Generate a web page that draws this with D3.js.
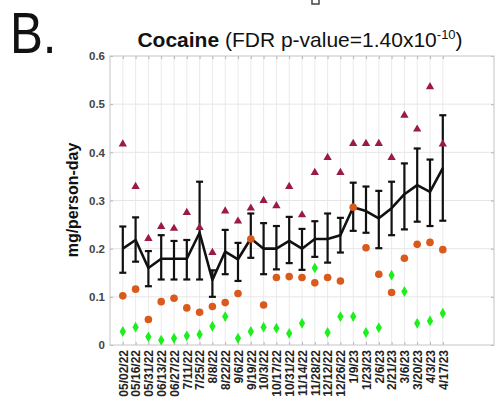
<!DOCTYPE html>
<html>
<head>
<meta charset="utf-8">
<script src="https://cdn.jsdelivr.net/npm/d3@7"></script>
<style>
  html, body { margin: 0; padding: 0; background: #fff; }
  svg { display: block; font-family: "Liberation Sans", Arial, Helvetica, sans-serif; }
</style>
</head>
<body>
<svg id="chart" width="498" height="404"></svg>
<script>
// ---- data ----
const dates = ["05/02/22","05/16/22","05/31/22","06/13/22","06/27/22","7/11/22","7/25/22","8/8/22","8/22/22","9/6/22",
  "9/19/22","10/3/22","10/17/22","10/31/22","11/14/22","11/28/22","12/12/22","12/26/22","1/9/23","1/23/23",
  "2/6/23","2/21/23","3/6/23","3/20/23","4/3/23","4/17/23"];
const meanVals = [0.200,0.218,0.160,0.179,0.179,0.179,0.233,0.135,0.194,0.178,
  0.221,0.200,0.200,0.216,0.200,0.220,0.220,0.228,0.286,0.278,
  0.263,0.284,0.313,0.332,0.318,0.367];
const upperVals = [0.246,0.265,0.195,0.228,0.216,0.218,0.339,0.155,0.239,0.212,
  0.273,0.253,0.247,0.266,0.241,0.257,0.273,0.264,0.337,0.329,
  0.320,0.339,0.377,0.408,0.385,0.477];
const lowerVals = [0.150,0.173,0.122,0.136,0.136,0.136,0.136,0.100,0.147,0.133,
  0.181,0.147,0.157,0.170,0.156,0.183,0.171,0.192,0.237,0.233,
  0.201,0.228,0.240,0.256,0.247,0.258];
const siteA = [0.417,0.329,0.221,0.246,0.242,0.275,0.244,0.192,0.278,0.257,
  0.284,0.300,0.289,0.329,0.270,0.358,0.389,0.358,0.418,0.418,
  0.418,0.389,0.477,0.448,0.536,0.417];
const siteB = [0.102,0.116,0.053,0.090,0.097,0.077,0.068,0.080,0.088,0.107,
  0.220,0.083,0.140,0.142,0.140,0.129,0.140,0.133,0.286,0.202,
  0.147,0.109,0.180,0.209,0.213,0.198];
const siteC = [0.028,0.037,0.017,0.010,0.014,0.019,0.022,0.039,0.059,0.014,
  0.028,0.037,0.035,0.024,0.045,0.160,0.026,0.059,0.059,0.026,
  0.036,0.145,0.111,0.045,0.050,0.066];
const yTicks = [0, 0.1, 0.2, 0.3, 0.4, 0.5, 0.6];

// ---- layout ----
const svg = d3.select("#chart");
const L = 110, R = 494, T = 56, B = 345;
const x = d3.scaleLinear().domain([-1, 29]).range([L, R]);
const y = d3.scaleLinear().domain([0, 0.6]).range([B, T]);
const idx = d3.range(dates.length);

// grid
const g = svg.append("g");
g.selectAll("line.vg").data(idx).join("line")
  .attr("x1", d => x(d)).attr("x2", d => x(d)).attr("y1", T).attr("y2", B)
  .attr("stroke", "#ebebeb").attr("stroke-width", 1);
g.selectAll("line.hg").data(yTicks.slice(1, -1)).join("line")
  .attr("x1", L).attr("x2", R).attr("y1", d => y(d)).attr("y2", d => y(d))
  .attr("stroke", "#e6e6e6").attr("stroke-width", 1);

// axes
const xb = d3.axisBottom(x).tickValues(idx).tickSize(-3).tickFormat(i => dates[i]);
const xt = d3.axisTop(x).tickValues(idx).tickSize(-3).tickFormat("");
const yl = d3.axisLeft(y).tickValues(yTicks).tickSize(-3).tickFormat(d3.format(".1f"))
  .tickPadding(5);
const yr = d3.axisRight(y).tickValues(yTicks).tickSize(-3).tickFormat("");

function styleAxis(sel) {
  sel.select(".domain").remove();
  sel.selectAll(".tick line").attr("stroke", "#b5b5b5");
}
const gxb = svg.append("g").attr("transform", `translate(0,${B})`).call(xb).call(styleAxis);
gxb.selectAll(".tick text")
  .attr("transform", "rotate(-90)")
  .attr("text-anchor", "end")
  .attr("x", -5).attr("y", 0).attr("dy", "0.35em")
  .attr("font-size", 12).attr("font-weight", "bold").attr("fill", "#222")
  .attr("font-family", "Liberation Sans, Arial, sans-serif");
svg.append("g").attr("transform", `translate(0,${T})`).call(xt).call(styleAxis);
const gyl = svg.append("g").attr("transform", `translate(${L},0)`).call(yl).call(styleAxis);
gyl.selectAll(".tick text")
  .attr("font-size", 11.5).attr("font-weight", "bold").attr("fill", "#444")
  .attr("font-family", "Liberation Sans, Arial, sans-serif")
  .text(d => d === 0 ? "0" : d3.format(".1f")(d));
svg.append("g").attr("transform", `translate(${R},0)`).call(yr).call(styleAxis);

// box
svg.append("rect").attr("x", L).attr("y", T).attr("width", R - L).attr("height", B - T)
  .attr("fill", "none").attr("stroke", "#c4c4c4").attr("stroke-width", 1);

// error bars
const eb = svg.append("g").attr("stroke", "#111").attr("stroke-width", 2.2);
eb.selectAll("line.v").data(idx).join("line")
  .attr("x1", d => x(d)).attr("x2", d => x(d))
  .attr("y1", d => y(upperVals[d])).attr("y2", d => y(lowerVals[d]));
eb.selectAll("line.t").data(idx).join("line")
  .attr("x1", d => x(d) - 3.5).attr("x2", d => x(d) + 3.5)
  .attr("y1", d => y(upperVals[d])).attr("y2", d => y(upperVals[d]));
eb.selectAll("line.b").data(idx).join("line")
  .attr("x1", d => x(d) - 3.5).attr("x2", d => x(d) + 3.5)
  .attr("y1", d => y(lowerVals[d])).attr("y2", d => y(lowerVals[d]));

// mean line
svg.append("path").datum(idx)
  .attr("d", d3.line().x(d => x(d)).y(d => y(meanVals[d])))
  .attr("fill", "none").attr("stroke", "#111").attr("stroke-width", 2.6)
  .attr("stroke-linejoin", "round");

// markers
const tri = d3.symbol().type(d3.symbolTriangle).size(30);
const dia = d3.symbol().type(d3.symbolDiamond).size(34);
svg.append("g").selectAll("path").data(idx).join("path")
  .attr("d", tri).attr("transform", d => `translate(${x(d)},${y(siteA[d])})`)
  .attr("fill", "#9b1b47");
svg.append("g").selectAll("circle").data(idx).join("circle")
  .attr("cx", d => x(d)).attr("cy", d => y(siteB[d])).attr("r", 3.8)
  .attr("fill", "#da5a1c");
svg.append("g").selectAll("path").data(idx).join("path")
  .attr("d", dia).attr("transform", d => `translate(${x(d)},${y(siteC[d])})`)
  .attr("fill", "#1cf01c");

// y label
svg.append("text")
  .attr("transform", `translate(78,200) rotate(-90)`)
  .attr("text-anchor", "middle")
  .attr("font-size", 16).attr("font-weight", "bold").attr("fill", "#111")
  .text("mg/person-day");

// title
const title = svg.append("text").attr("x", 300).attr("y", 47).attr("text-anchor", "middle")
  .attr("font-size", 21).attr("fill", "#111");
title.append("tspan").attr("font-weight", "bold").text("Cocaine");
title.append("tspan").text(" (FDR p-value=1.40x10");
title.append("tspan").attr("font-size", 13).attr("dy", -8).text("-10");
title.append("tspan").attr("dy", 8).text(")");

// panel letter
svg.append("text").attr("x", 10).attr("y", 53)
  .attr("font-size", 58).attr("fill", "#111")
  .attr("transform", "translate(10,0) scale(0.85,1) translate(-10,0)")
  .text("B.");

// small cropped mark at top
svg.append("rect").attr("x", 312).attr("y", -2).attr("width", 7).attr("height", 6)
  .attr("fill", "none").attr("stroke", "#444").attr("stroke-width", 1.5);
</script>
</body>
</html>
